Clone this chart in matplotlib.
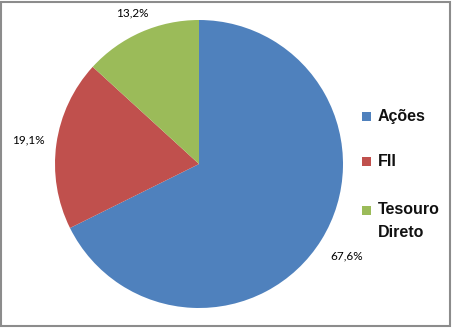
import matplotlib
matplotlib.use("Agg")
import matplotlib.pyplot as plt
from matplotlib.patches import Rectangle

categories = ["Ações", "FII", "Tesouro\nDireto"]
values = [67.6, 19.1, 13.2]
colors = ["#4F81BD", "#C0504D", "#9BBB59"]

plt.rcParams['font.family'] = ['Lato', 'DejaVu Sans']

W, H = 453, 329
fig = plt.figure(figsize=(W/100, H/100), dpi=100)
cx, cy, r = 199, 164, 144
ax = fig.add_axes([(cx-r)/W, (H-cy-r)/H, 2*r/W, 2*r/H])
labels = [f"{v:.1f}%".replace('.', ',') for v in values]
wedges, texts = ax.pie(values, colors=colors, startangle=90, counterclock=False,
                       labels=labels, labeldistance=1.2,
                       textprops=dict(fontsize=8.5, color="#000000"),
                       wedgeprops=dict(linewidth=0))
label_dist = [1.21, 1.2, 1.15]
for t, d in zip(texts, label_dist):
    x, y = t.get_position()
    t.set_position((x / 1.2 * d, y / 1.2 * d))
    t.set_horizontalalignment('center')
    t.set_verticalalignment('center')
ax.set_xlim(-1, 1)
ax.set_ylim(-1, 1)
ax.set_aspect('equal')
ax.axis('off')

# legend
leg_y = [116, 161, 210]
mx, ms, tx = 362, 9, 378
for w, lab, yc in zip(wedges, categories, leg_y):
    fig.patches.append(Rectangle((mx/W, (H-yc-ms/2)/H), ms/W, ms/H, transform=fig.transFigure,
                                 facecolor=w.get_facecolor(), edgecolor='none', figure=fig))
    fig.text(tx/W, (H-yc+7.5)/H, lab, ha='left', va='top', fontsize=11.5, fontweight='bold',
             family=['Liberation Sans', 'DejaVu Sans'],
             color="#111111", linespacing=1.65)

fig.patches.append(Rectangle((1/W, 3/H), (W-4)/W, (H-5)/H, transform=fig.transFigure,
                             fill=False, edgecolor="#8c8c8c", linewidth=1.5, figure=fig))
fig.savefig("out.png", dpi=100)
